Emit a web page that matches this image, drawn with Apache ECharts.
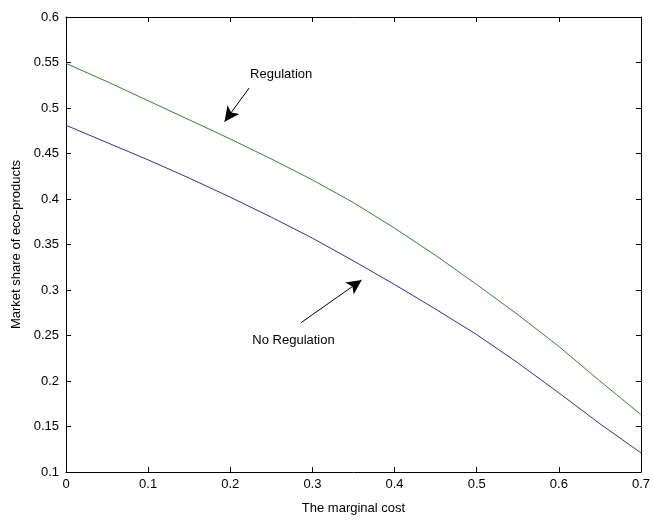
<!DOCTYPE html>
<html>
<head>
<meta charset="utf-8">
<script src="https://cdn.jsdelivr.net/npm/echarts@6/dist/echarts.min.js"></script>
<style>
    html, body { margin: 0; padding: 0; background: #fff; }
    #chart { width: 653px; height: 520px; }
</style>
</head>
<body>
<div id="chart"></div>
<script>
// marginal cost values (x)
const costs = [0, 0.05, 0.1, 0.15, 0.2, 0.25, 0.3, 0.35, 0.4, 0.45, 0.5, 0.55, 0.6, 0.65, 0.7];
// market share with regulation (green)
const regulation = [0.549, 0.529, 0.508, 0.487, 0.466, 0.444, 0.421, 0.396, 0.368, 0.338, 0.306, 0.273, 0.238, 0.200, 0.163];
// market share without regulation (blue)
const noRegulation = [0.481, 0.462, 0.443, 0.423, 0.402, 0.380, 0.357, 0.332, 0.306, 0.279, 0.251, 0.220, 0.187, 0.153, 0.121];

// annotations: [text x, text y], arrow [from], [to]
const regText = [0.262, 0.537];
const regArrow = [[0.223, 0.522], [0.193, 0.485]];
const noRegText = [0.277, 0.245];
const noRegArrow = [[0.286, 0.264], [0.360, 0.311]];

const font = 'Liberation Sans';
const chart = echarts.init(document.getElementById('chart'));

function pairs(xs, ys) {
    return xs.map((x, i) => [x, ys[i]]);
}

const boxAxis = {
    axisLine: { show: true, onZero: false, lineStyle: { color: '#000', width: 1 } },
    axisTick: { show: true, inside: true, length: 5, lineStyle: { color: '#000' } },
    splitLine: { show: false }
};

const option = {
    animation: false,
    backgroundColor: '#fff',
    grid: { left: 66, right: 9, top: 17, bottom: 47 },
    xAxis: [
        {
            type: 'value',
            min: 0, max: 0.7, interval: 0.1,
            name: 'The marginal cost',
            nameLocation: 'middle',
            nameGap: 30,
            nameTextStyle: { color: '#000', fontFamily: font, fontSize: 13 },
            axisLabel: { color: '#000', fontFamily: font, fontSize: 13, margin: 6 },
            ...boxAxis
        },
        {
            type: 'value', position: 'top',
            min: 0, max: 0.7, interval: 0.1,
            axisLabel: { show: false },
            ...boxAxis
        }
    ],
    yAxis: [
        {
            type: 'value',
            min: 0.1, max: 0.6, interval: 0.05,
            name: 'Market share of eco-products',
            nameLocation: 'middle',
            nameGap: 40,
            nameTextStyle: { color: '#000', fontFamily: font, fontSize: 13 },
            axisLabel: { color: '#000', fontFamily: font, fontSize: 13, margin: 7 },
            ...boxAxis
        },
        {
            type: 'value', position: 'right',
            min: 0.1, max: 0.6, interval: 0.05,
            axisLabel: { show: false },
            ...boxAxis
        }
    ],
    series: [
        {
            name: 'Regulation',
            type: 'line',
            data: pairs(costs, regulation),
            showSymbol: false,
            lineStyle: { color: '#2f8a2f', width: 1 },
            markLine: {
                silent: true,
                symbol: ['none', 'arrow'],
                symbolSize: [11, 15],
                lineStyle: { color: '#000', type: 'solid', width: 1 },
                label: { show: false },
                data: [[{ coord: regArrow[0] }, { coord: regArrow[1] }]]
            },
            markPoint: {
                silent: true,
                symbol: 'circle', symbolSize: 0,
                label: {
                    show: true, color: '#000', fontFamily: font, fontSize: 13,
                    formatter: 'Regulation'
                },
                data: [{ coord: regText }]
            }
        },
        {
            name: 'No Regulation',
            type: 'line',
            data: pairs(costs, noRegulation),
            showSymbol: false,
            lineStyle: { color: '#2b2bd0', width: 1 },
            markLine: {
                silent: true,
                symbol: ['none', 'arrow'],
                symbolSize: [11, 15],
                lineStyle: { color: '#000', type: 'solid', width: 1 },
                label: { show: false },
                data: [[{ coord: noRegArrow[0] }, { coord: noRegArrow[1] }]]
            },
            markPoint: {
                silent: true,
                symbol: 'circle', symbolSize: 0,
                label: {
                    show: true, color: '#000', fontFamily: font, fontSize: 13,
                    formatter: 'No Regulation'
                },
                data: [{ coord: noRegText }]
            }
        }
    ]
};

chart.setOption(option);
</script>
</body>
</html>
